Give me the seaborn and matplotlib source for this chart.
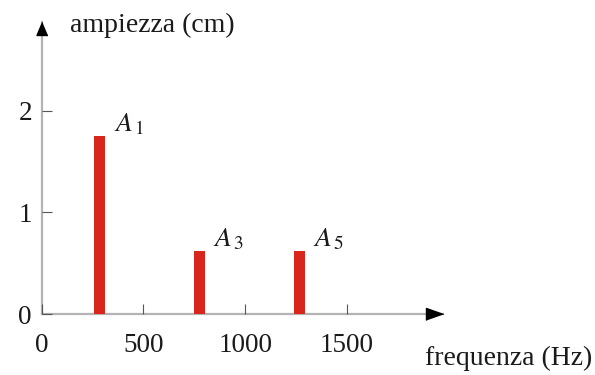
import matplotlib
matplotlib.use("Agg")
import matplotlib.pyplot as plt
import seaborn as sns
import pandas as pd

# Harmonic spectrum: frequency (Hz) and amplitude (cm) of each component
freqs = [285, 775, 1265]
amps = [1.75, 0.62, 0.62]
names = [r"$A_{\,1}$", r"$A_{\,3}$", r"$A_{\,5}$"]
xticks = [0, 500, 1000, 1500]
yticks = [0, 1, 2]

sns.set_theme(style="white")
plt.rcParams["font.family"] = ["Liberation Serif", "DejaVu Serif"]
plt.rcParams["mathtext.fontset"] = "stix"

df = pd.DataFrame({"freq": freqs, "amp": amps, "name": names})

W, H = 595, 375
fig = plt.figure(figsize=(W / 100, H / 100), dpi=100)
x0, x1, y0, y1 = 41.7, 443.0, 314.0, 22.0
ax = fig.add_axes([x0 / W, 1 - y0 / H, (x1 - x0) / W, (y0 - y1) / H])

red = "#d8261d"
bar_width = 0.11
sns.barplot(data=df, x="freq", y="amp", native_scale=True, width=bar_width,
            color=red, saturation=1, linewidth=0, ax=ax, zorder=1)

ax.set_xlim(0, 1972)
ax.set_ylim(0, 2.87)
ax.set_xticks(xticks)
ax.set_yticks(yticks)
ax.set_xticklabels([str(t) for t in xticks])
ax.set_yticklabels([str(t) for t in yticks])

axis_grey = "#b3b3b3"
for side in ("top", "right"):
    ax.spines[side].set_visible(False)
for side in ("left", "bottom"):
    ax.spines[side].set_color(axis_grey)
    ax.spines[side].set_linewidth(1.6)
    ax.spines[side].set_zorder(0.5)

ax.tick_params(axis="x", bottom=True, direction="in", length=7.5, width=0.8,
               color="#555555", labelsize=19.5, pad=14, labelcolor="#1a1a1a")
ax.tick_params(axis="y", left=True, direction="in", length=7.5, width=0.8,
               color="#555555", labelsize=19.5, pad=7, labelcolor="#1a1a1a")
for lbl in ax.get_xticklabels():
    lbl.set_x(lbl.get_position()[0])

# arrowheads at the ends of both axes
ax.plot([1], [0], transform=ax.transAxes, clip_on=False, color="black",
        marker=[(0, 0), (-17, 6), (-17, -6)], markersize=24.5, zorder=5)
ax.plot([0], [1], transform=ax.transAxes, clip_on=False, color="black",
        marker=[(0, 0), (-5.5, -13), (5.5, -13)], markersize=18.7, zorder=5)

ax.set_ylabel("ampiezza (cm)", rotation=0, ha="left", va="center",
              fontsize=20, color="#1a1a1a")
ax.yaxis.set_label_coords((70 - x0) / (x1 - x0), (y0 - 25) / (y0 - y1))
ax.set_xlabel("frequenza (Hz)", ha="right", va="center",
              fontsize=20, color="#1a1a1a")
ax.xaxis.set_label_coords((592 - x0) / (x1 - x0), -(358 - y0) / (y0 - y1))

half = bar_width * (freqs[1] - freqs[0]) / 2
for f, a, n in zip(freqs, amps, names):
    ax.annotate(n, xy=(f + half, a), xytext=(6, 3.5), textcoords="offset points",
                ha="left", va="baseline", fontsize=20, color="#1a1a1a")

fig.savefig("out.png", dpi=100)
